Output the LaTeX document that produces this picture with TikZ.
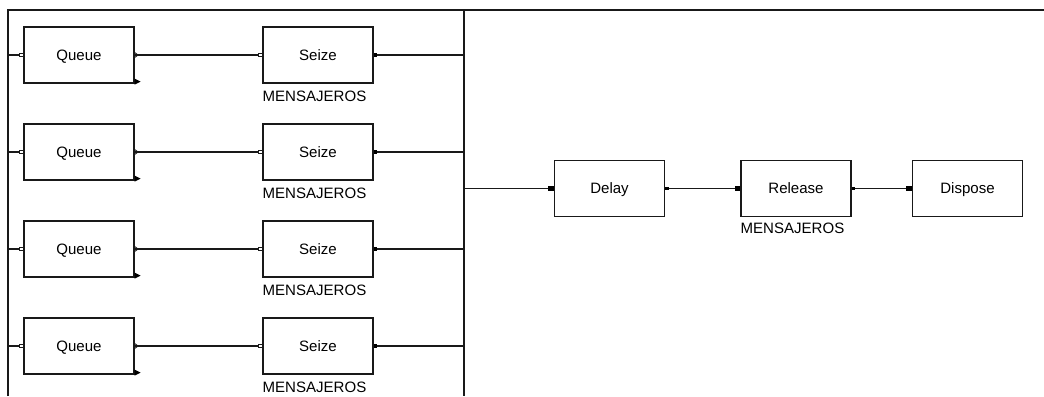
\documentclass[tikz,border=0pt]{standalone}
\usepackage{fontspec}
\setmainfont{Liberation Sans}
\usetikzlibrary{positioning}

\begin{document}
\begin{tikzpicture}[
    x=0.025cm, y=-0.025cm,
    block/.style={draw=black!90, line width=0.9pt, minimum width=2.75cm, minimum height=1.4cm, text depth=0pt, font=\fontsize{10.7}{12}\selectfont},
    lbl/.style={font=\fontsize{10.7}{12}\selectfont, inner sep=0pt},
    inbox/.style={draw=black!90, fill=white, line width=0.6pt, minimum size=0.09cm, inner sep=0pt},
    indot/.style={fill=black, minimum width=0.13cm, minimum height=0.11cm, inner sep=0pt},
    outdot/.style={fill=black, minimum size=0.08cm, inner sep=0pt},
    wire/.style={draw=black!90, line width=0.9pt},
    bus/.style={draw=black!90, line width=1.4pt},
    chev/.pic={\draw[black!90, line width=0.6pt] (0,-2.5) -- (3.5,0) -- (0,2.5);},
    tri/.pic={\fill[black] (0,-3) -- (6,0) -- (0,3) -- cycle;}
  ]
  \useasboundingbox (0,0) rectangle (1044,396);

  % Frame and bus lines
  \coordinate (busL) at (8,10);
  \coordinate (busR) at (464,10);
  \draw[bus] (8,396) -- (busL) -- (1044,10);
  \draw[bus] (busR) -- (464,396);

  % Queue -> Seize rows
  \foreach \i/\y in {1/55, 2/152, 3/249, 4/346} {
    \node[block] (q\i) at (79,\y) {Queue};
    \node[block] (s\i) at (318,\y) {Seize};
    \node[lbl, below=0.17cm of s\i.south west, anchor=north west] {MENSAJEROS};
    \node[inbox, anchor=east] (q\i in) at (q\i.west) {};
    \node[inbox, anchor=east] (s\i in) at (s\i.west) {};
    \node[outdot, anchor=west] (s\i out) at (s\i.east) {};
    \pic at (q\i.east) {chev};
    \pic at ([yshift=0.05cm]q\i.south east) {tri};
    \draw[wire] (q\i in.west -| busL) -- (q\i in.west);
    \draw[wire] (q\i.east) -- (s\i in.west);
    \draw[wire] (s\i out.east) -- (s\i out.east -| busR);
  }

  % Delay, Release, Dispose
  \node[block] (delay) at (609.5,188.5) {Delay};
  \node[block] (release) at (796,188.5) {Release};
  \node[block] (dispose) at (967.5,188.5) {Dispose};
  \node[lbl, below=0.15cm of release.south west, anchor=north west] {MENSAJEROS};

  \node[indot, anchor=east] (delayin) at (delay.west) {};
  \node[outdot, anchor=west] (delayout) at (delay.east) {};
  \node[indot, anchor=east] (releasein) at (release.west) {};
  \node[outdot, anchor=west] (releaseout) at (release.east) {};
  \node[indot, anchor=east] (disposein) at (dispose.west) {};

  \draw[wire] (delayin.west -| busR) -- (delayin.west);
  \draw[wire] (delayout.east) -- (releasein.west);
  \draw[wire] (releaseout.east) -- (disposein.west);
\end{tikzpicture}
\end{document}
